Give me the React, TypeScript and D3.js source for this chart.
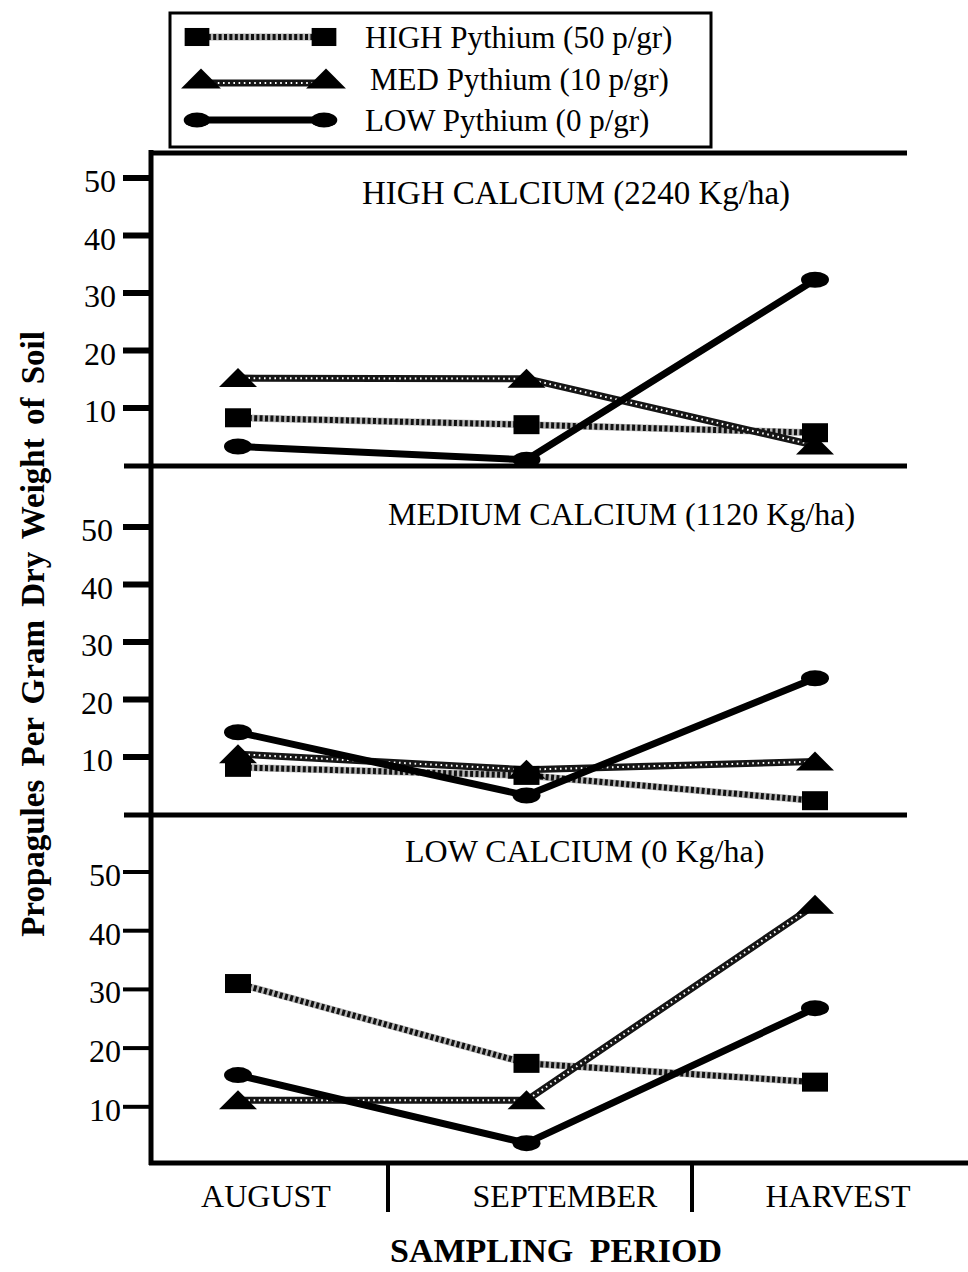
import React from 'react';
import * as d3 from 'd3';

// ---------- data ----------
const periods = ['AUGUST', 'SEPTEMBER', 'HARVEST'];
const panelTitles = [
  'HIGH CALCIUM (2240 Kg/ha)',
  'MEDIUM CALCIUM (1120 Kg/ha)',
  'LOW CALCIUM (0 Kg/ha)',
];
const seriesNames = ['HIGH Pythium (50 p/gr)', 'MED Pythium (10 p/gr)', 'LOW Pythium (0 p/gr)'];
// values per panel (high, medium, low calcium) × period
const highPythium = [
  [8.3, 7.1, 5.7],
  [8.2, 6.8, 2.4],
  [31.0, 17.4, 14.2],
];
const medPythium = [
  [15.2, 15.1, 3.5],
  [10.5, 7.8, 9.2],
  [11.1, 11.1, 44.4],
];
const lowPythium = [
  [3.3, 1.0, 32.3],
  [14.3, 3.3, 23.7],
  [15.4, 3.8, 26.8],
];
const yTicks = [10, 20, 30, 40, 50];
const xLabel = 'SAMPLING PERIOD';
const yLabel = 'Propagules Per Gram Dry Weight of Soil';

// ---------- layout ----------
const W = 968;
const H = 1272;
const FONT = '"Liberation Serif","Times New Roman",Times,serif';
const axisX = 151;
const rightEnd = 907;
const panels = [
  { top: 153, y0: 465.5, y50: 178, labelX: 116, tickW: 6, titleX: 362, titleY: 204, titleSize: 33 },
  { top: 466, y0: 814.5, y50: 527, labelX: 113, tickW: 6, titleX: 388, titleY: 525, titleSize: 32 },
  { top: 815, y0: 1165.5, y50: 872, labelX: 121, tickW: 4, titleX: 405, titleY: 862, titleSize: 32 },
];
const bottomY = 1163;
const catLabelX = [266, 565, 838];
const dividerX = [388, 692];
const legendRows = [37, 79, 120];
const legendTextX = [365, 370, 365];

const x = d3.scalePoint<string>().domain(periods).range([238, 815]);

type Kind = 'high' | 'med' | 'low';
const seriesKinds: Kind[] = ['high', 'med', 'low'];
const seriesData = [highPythium, medPythium, lowPythium];

function StyledLine({ d, kind }: { d: string; kind: Kind }) {
  if (kind === 'high') {
    return (
      <g fill="none">
        <path d={d} stroke="#b5b5b5" strokeWidth={7} />
        <path d={d} stroke="#111" strokeWidth={6} strokeDasharray="3 2.4" />
      </g>
    );
  }
  if (kind === 'med') {
    return (
      <g fill="none">
        <path d={d} stroke="#151515" strokeWidth={7} />
        <path d={d} stroke="#fff" strokeWidth={2} strokeDasharray="1.6 3.6" />
      </g>
    );
  }
  return <path d={d} fill="none" stroke="#000" strokeWidth={7} strokeLinejoin="round" />;
}

function Marker({ kind, cx, cy, s = 1 }: { kind: Kind; cx: number; cy: number; s?: number }) {
  if (kind === 'high') {
    return <rect x={cx - 13 * s} y={cy - 9.5 * s} width={26 * s} height={19 * s} fill="#000" />;
  }
  if (kind === 'med') {
    return (
      <path
        d={`M${cx - 19 * s},${cy + 9 * s} L${cx},${cy - 10 * s} L${cx + 19 * s},${cy + 9 * s} Z`}
        fill="#000"
      />
    );
  }
  return <ellipse cx={cx} cy={cy} rx={14 * s} ry={8 * s} fill="#000" />;
}

export default function App() {
  return (
    <svg
      width={W}
      height={H}
      viewBox={`0 0 ${W} ${H}`}
      style={{ position: 'absolute', left: 0, top: 0, display: 'block', background: '#fff' }}
      fontFamily={FONT}
    >
      <rect x={0} y={0} width={W} height={H} fill="#fff" />

      {/* legend */}
      <g>
        <rect x={170} y={13} width={541} height={134} fill="#fff" stroke="#000" strokeWidth={3} />
        {seriesKinds.map((k, i) => {
          const ly = legendRows[i];
          const x1 = 197;
          const x2 = 324;
          const lineY = k === 'med' ? ly + 4 : ly;
          return (
            <g key={k}>
              <StyledLine d={`M${x1},${lineY} L${x2},${lineY}`} kind={k} />
              <Marker kind={k} cx={k === 'med' ? x1 + 4 : x1} cy={ly} s={k === 'med' ? 1.05 : 0.95} />
              <Marker kind={k} cx={k === 'med' ? x2 + 2 : x2} cy={ly} s={k === 'med' ? 1.05 : 0.95} />
              <text x={legendTextX[i]} y={ly + 11} fontSize={31} fill="#000">
                {seriesNames[i]}
              </text>
            </g>
          );
        })}
      </g>

      {/* frame lines */}
      <line x1={axisX} y1={150} x2={axisX} y2={bottomY + 2} stroke="#000" strokeWidth={5} />
      <line x1={axisX - 2} y1={panels[0].top} x2={rightEnd} y2={panels[0].top} stroke="#000" strokeWidth={5} />
      <line x1={124} y1={panels[1].top} x2={rightEnd} y2={panels[1].top} stroke="#000" strokeWidth={5} />
      <line x1={124} y1={panels[2].top} x2={rightEnd} y2={panels[2].top} stroke="#000" strokeWidth={5} />
      <line x1={axisX - 2} y1={bottomY} x2={W} y2={bottomY} stroke="#000" strokeWidth={5} />

      {panels.map((p, pi) => {
        const y = d3.scaleLinear().domain([0, 50]).range([p.y0, p.y50]);
        const line = d3
          .line<number>()
          .x((_, i) => x(periods[i]) as number)
          .y((v) => y(v));
        return (
          <g key={pi}>
            {yTicks.map((t) => (
              <g key={t}>
                <line x1={123} x2={axisX} y1={y(t)} y2={y(t)} stroke="#000" strokeWidth={p.tickW} />
                <text x={p.labelX} y={y(t) + 14} fontSize={32} textAnchor="end" fill="#000">
                  {t}
                </text>
              </g>
            ))}
            <text x={p.titleX} y={p.titleY} fontSize={p.titleSize} fill="#000">
              {panelTitles[pi]}
            </text>
            {seriesKinds.map((k, si) => (
              <StyledLine key={k} d={line(seriesData[si][pi]) as string} kind={k} />
            ))}
            {seriesKinds.map((k, si) =>
              seriesData[si][pi].map((v, i) => (
                <Marker key={k + i} kind={k} cx={x(periods[i]) as number} cy={y(v)} />
              ))
            )}
          </g>
        );
      })}

      {/* category axis */}
      {dividerX.map((dx) => (
        <line key={dx} x1={dx} x2={dx} y1={bottomY} y2={1212} stroke="#000" strokeWidth={4} />
      ))}
      {periods.map((c, i) => (
        <text key={c} x={catLabelX[i]} y={1207} fontSize={32} textAnchor="middle" fill="#000">
          {c}
        </text>
      ))}
      <text x={556} y={1262} fontSize={34} fontWeight="bold" textAnchor="middle" wordSpacing={8} fill="#000">
        {xLabel}
      </text>
      <text
        transform="translate(44,634) rotate(-90)"
        fontSize={33}
        fontWeight="bold"
        textAnchor="middle"
        wordSpacing={5}
        fill="#000"
      >
        {yLabel}
      </text>
    </svg>
  );
}
